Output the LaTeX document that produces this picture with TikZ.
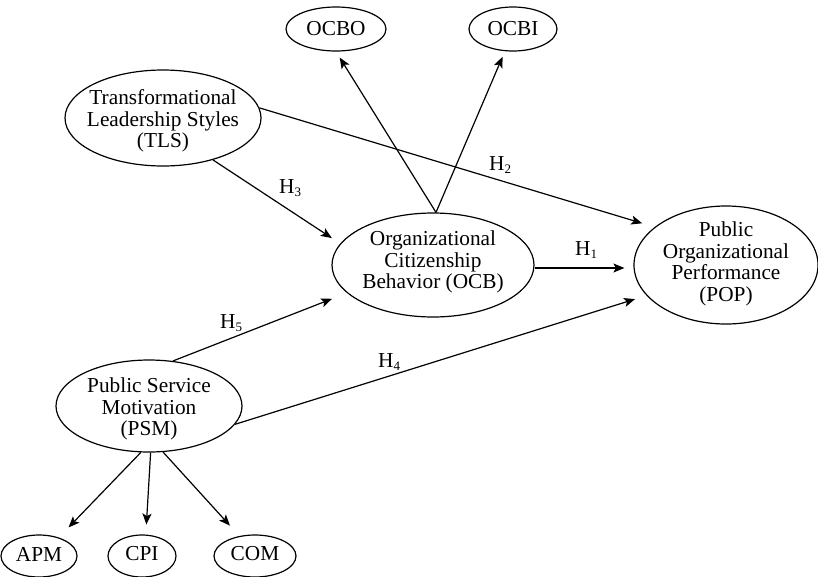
\documentclass[tikz,border=0pt]{standalone}
\usepackage{fontspec}
\setmainfont{Liberation Serif}
\usetikzlibrary{shapes.geometric,arrows.meta}
\newcommand{\hsub}[1]{H\raisebox{-3.5pt}{\fontsize{13}{13}\selectfont #1}}
\begin{document}
\begin{tikzpicture}[x=1pt,y=-1pt,
  ell/.style={ellipse,draw,line width=1.2pt,inner sep=0pt},
  txt/.style={align=center,inner sep=0pt,font=\fontsize{21.3}{21.5}\selectfont},
  arr/.style={line width=1.2pt,-{Stealth[length=11pt,width=9pt,inset=2.5pt]}},
  hlab/.style={anchor=base west,inner sep=0pt,font=\fontsize{21.3}{21.5}\selectfont}]
\useasboundingbox (0,0) rectangle (818,576);
% ellipses
\node[ell,minimum width=100pt,minimum height=44pt] (ocbo) at (336,29) {};
\node[txt] (ocboT) at (ocbo) {OCBO};
\node[ell,minimum width=88pt,minimum height=44pt] (ocbi) at (513,29) {};
\node[txt] (ocbiT) at (ocbi) {OCBI};
\node[ell,minimum width=196pt,minimum height=96pt] (tls) at (163,118) {};
\node[txt] (tlsT) at (163,121) {Transformational\\Leadership Styles\\(TLS)};
\node[ell,minimum width=202pt,minimum height=104pt] (ocb) at (433,265) {};
\node[txt] (ocbT) at (433,262) {Organizational\\Citizenship\\Behavior (OCB)};
\node[ell,minimum width=184pt,minimum height=118pt] (pop) at (726,265) {};
\node[txt] (popT) at (726,264) {Public\\Organizational\\Performance\\(POP)};
\node[ell,minimum width=186pt,minimum height=92pt] (psm) at (149,406) {};
\node[txt] (psmT) at (149,409) {Public Service\\Motivation\\(PSM)};
\node[ell,minimum width=76pt,minimum height=42pt] (apm) at (39,556) {};
\node[txt] (apmT) at (39,554) {APM};
\node[ell,minimum width=68pt,minimum height=42pt] (cpi) at (142,556) {};
\node[txt] (cpiT) at (142,554) {CPI};
\node[ell,minimum width=82pt,minimum height=42pt] (com) at (255,556) {};
\node[txt] (comT) at (255,554) {COM};
% arrows
\draw[arr,shorten >=7pt] ([xshift=3pt]ocb.north) -- (ocbo.south);
\draw[arr,shorten >=6pt] ([xshift=3pt]ocb.north) -- (ocbi.-110);
\draw[arr,shorten >=13pt] (tls.6.6) -- (pop.152.5);
\draw[arr,shorten >=10pt] (tls.320) -- (ocb.167);
\draw[arr,shorten >=9pt] ([yshift=-3pt]ocb.east) -- ([yshift=-3pt]pop.west);
\draw[arr,shorten >=16pt] (psm.62.9) -- (ocb.198.4);
\draw[arr,shorten >=12pt] (psm.-12.7) -- (pop.201.9);
\draw[arr,shorten >=14pt] (psm.260) -- (apm.43);
\draw[arr,shorten >=10pt] (psm.272.5) -- (cpi.80);
\draw[arr,shorten >=14pt] (psm.287) -- (com.128.5);
% labels
\node[hlab] (h3) at (279,193) {\hsub{3}};
\node[hlab] (h2) at (489,170) {\hsub{2}};
\node[hlab] (h1) at (575,255) {\hsub{1}};
\node[hlab] (h5) at (220,328) {\hsub{5}};
\node[hlab] (h4) at (378,367) {\hsub{4}};
\end{tikzpicture}
\end{document}
